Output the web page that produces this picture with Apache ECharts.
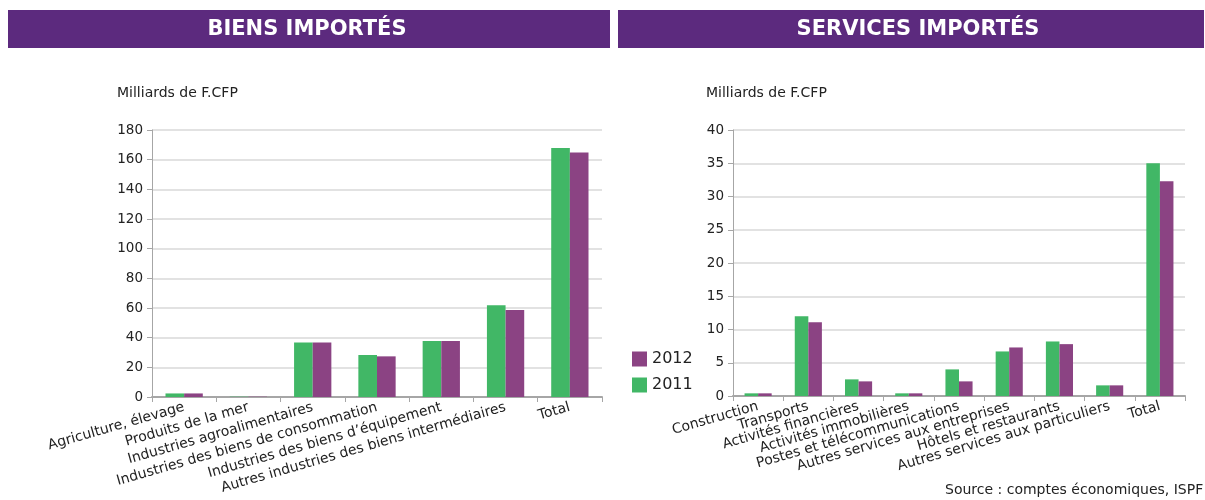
<!DOCTYPE html>
<html>
<head>
<meta charset="utf-8">
<script src="https://cdn.jsdelivr.net/npm/echarts@6/dist/echarts.min.js"></script>
<style>
  html, body { margin: 0; padding: 0; background: #fff; }
  #chart { width: 1205px; height: 500px; }
</style>
</head>
<body>
<div id="chart"></div>
<script>
// biens importés
const biensCategories = [
  "Agriculture, élevage",
  "Produits de la mer",
  "Industries agroalimentaires",
  "Industries des biens de consommation",
  "Industries des biens d’équipement",
  "Autres industries des biens intermédiaires",
  "Total"
];
const biens2011 = [2.4, 0.2, 36.8, 28.3, 37.8, 61.8, 167.8];
const biens2012 = [2.4, 0.2, 36.8, 27.4, 37.8, 58.7, 164.8];

// services importés
const servicesCategories = [
  "Construction",
  "Transports",
  "Activités financières",
  "Activités immobilières",
  "Postes et télécommunications",
  "Autres services aux entreprises",
  "Hôtels et restaurants",
  "Autres services aux particuliers",
  "Total"
];
const services2011 = [0.4, 12.0, 2.5, 0.4, 4.0, 6.7, 8.2, 1.6, 35.0];
const services2012 = [0.4, 11.1, 2.2, 0.4, 2.2, 7.3, 7.8, 1.6, 32.3];

const yearLabels = ["2012", "2011"];

const GREEN = "#41b766";
const PURPLE = "#8b4383";
const HEADER = "#5c2a7e";
const FONT = "DejaVu Sans";

const chart = echarts.init(document.getElementById("chart"));

function xAxisFor(gridIndex, data) {
  return {
    type: "category",
    gridIndex: gridIndex,
    data: data,
    axisLine: { lineStyle: { color: "#a6a6a6", width: 2 } },
    axisTick: { show: true, alignWithLabel: false, length: 5, lineStyle: { color: "#a6a6a6" } },
    axisLabel: {
      interval: 0,
      rotate: 16,
      margin: 10,
      color: "#222",
      fontFamily: FONT,
      fontSize: 14
    }
  };
}

function yAxisFor(gridIndex, max, interval) {
  return {
    type: "value",
    gridIndex: gridIndex,
    min: 0,
    max: max,
    interval: interval,
    axisLine: { show: true, lineStyle: { color: "#a6a6a6", width: 1 } },
    axisTick: { show: true, length: 5, lineStyle: { color: "#a6a6a6" } },
    axisLabel: { color: "#222", fontFamily: FONT, fontSize: 13.5, margin: 9 },
    splitLine: { lineStyle: { color: "#d9d9d9", width: 1.5 } }
  };
}

function barSeries(name, data, axisIndex, color, gap) {
  return {
    name: name,
    type: "bar",
    xAxisIndex: axisIndex,
    yAxisIndex: axisIndex,
    data: data,
    barGap: "0%",
    barCategoryGap: gap,
    itemStyle: { color: color },
    emphasis: { disabled: true }
  };
}

chart.setOption({
  animation: false,
  textStyle: { fontFamily: FONT },
  graphic: [
    { type: "rect", shape: { x: 8, y: 10, width: 602, height: 38 }, style: { fill: HEADER } },
    { type: "rect", shape: { x: 618, y: 10, width: 586, height: 38 }, style: { fill: HEADER } },
    {
      type: "text", x: 307, y: 30,
      style: { text: "BIENS IMPORTÉS", fill: "#fff", font: "bold 21px 'DejaVu Sans'", align: "center", verticalAlign: "middle" }
    },
    {
      type: "text", x: 918, y: 30,
      style: { text: "SERVICES IMPORTÉS", fill: "#fff", font: "bold 21px 'DejaVu Sans'", align: "center", verticalAlign: "middle" }
    },
    {
      type: "text", x: 117, y: 93,
      style: { text: "Milliards de F.CFP", fill: "#222", font: "14px 'DejaVu Sans'", verticalAlign: "middle" }
    },
    {
      type: "text", x: 706, y: 93,
      style: { text: "Milliards de F.CFP", fill: "#222", font: "14px 'DejaVu Sans'", verticalAlign: "middle" }
    },
    {
      type: "text", x: 945, y: 490,
      style: { text: "Source : comptes économiques, ISPF", fill: "#222", font: "14px 'DejaVu Sans'", verticalAlign: "middle" }
    }
  ],
  legend: {
    data: yearLabels,
    orient: "vertical",
    left: 627,
    top: 346,
    itemWidth: 15,
    itemHeight: 15,
    itemGap: 10,
    icon: "rect",
    textStyle: { fontSize: 16, color: "#222", fontFamily: FONT }
  },
  grid: [
    { left: 152, right: 603, top: 130, bottom: 103, containLabel: false },
    { left: 733, right: 20, top: 130, bottom: 104, containLabel: false }
  ],
  xAxis: [xAxisFor(0, biensCategories), xAxisFor(1, servicesCategories)],
  yAxis: [yAxisFor(0, 180, 20), yAxisFor(1, 40, 5)],
  series: [
    barSeries("2011", biens2011, 0, GREEN, "42%"),
    barSeries("2012", biens2012, 0, PURPLE, "42%"),
    barSeries("2011", services2011, 1, GREEN, "46%"),
    barSeries("2012", services2012, 1, PURPLE, "46%")
  ]
});
</script>
</body>
</html>
